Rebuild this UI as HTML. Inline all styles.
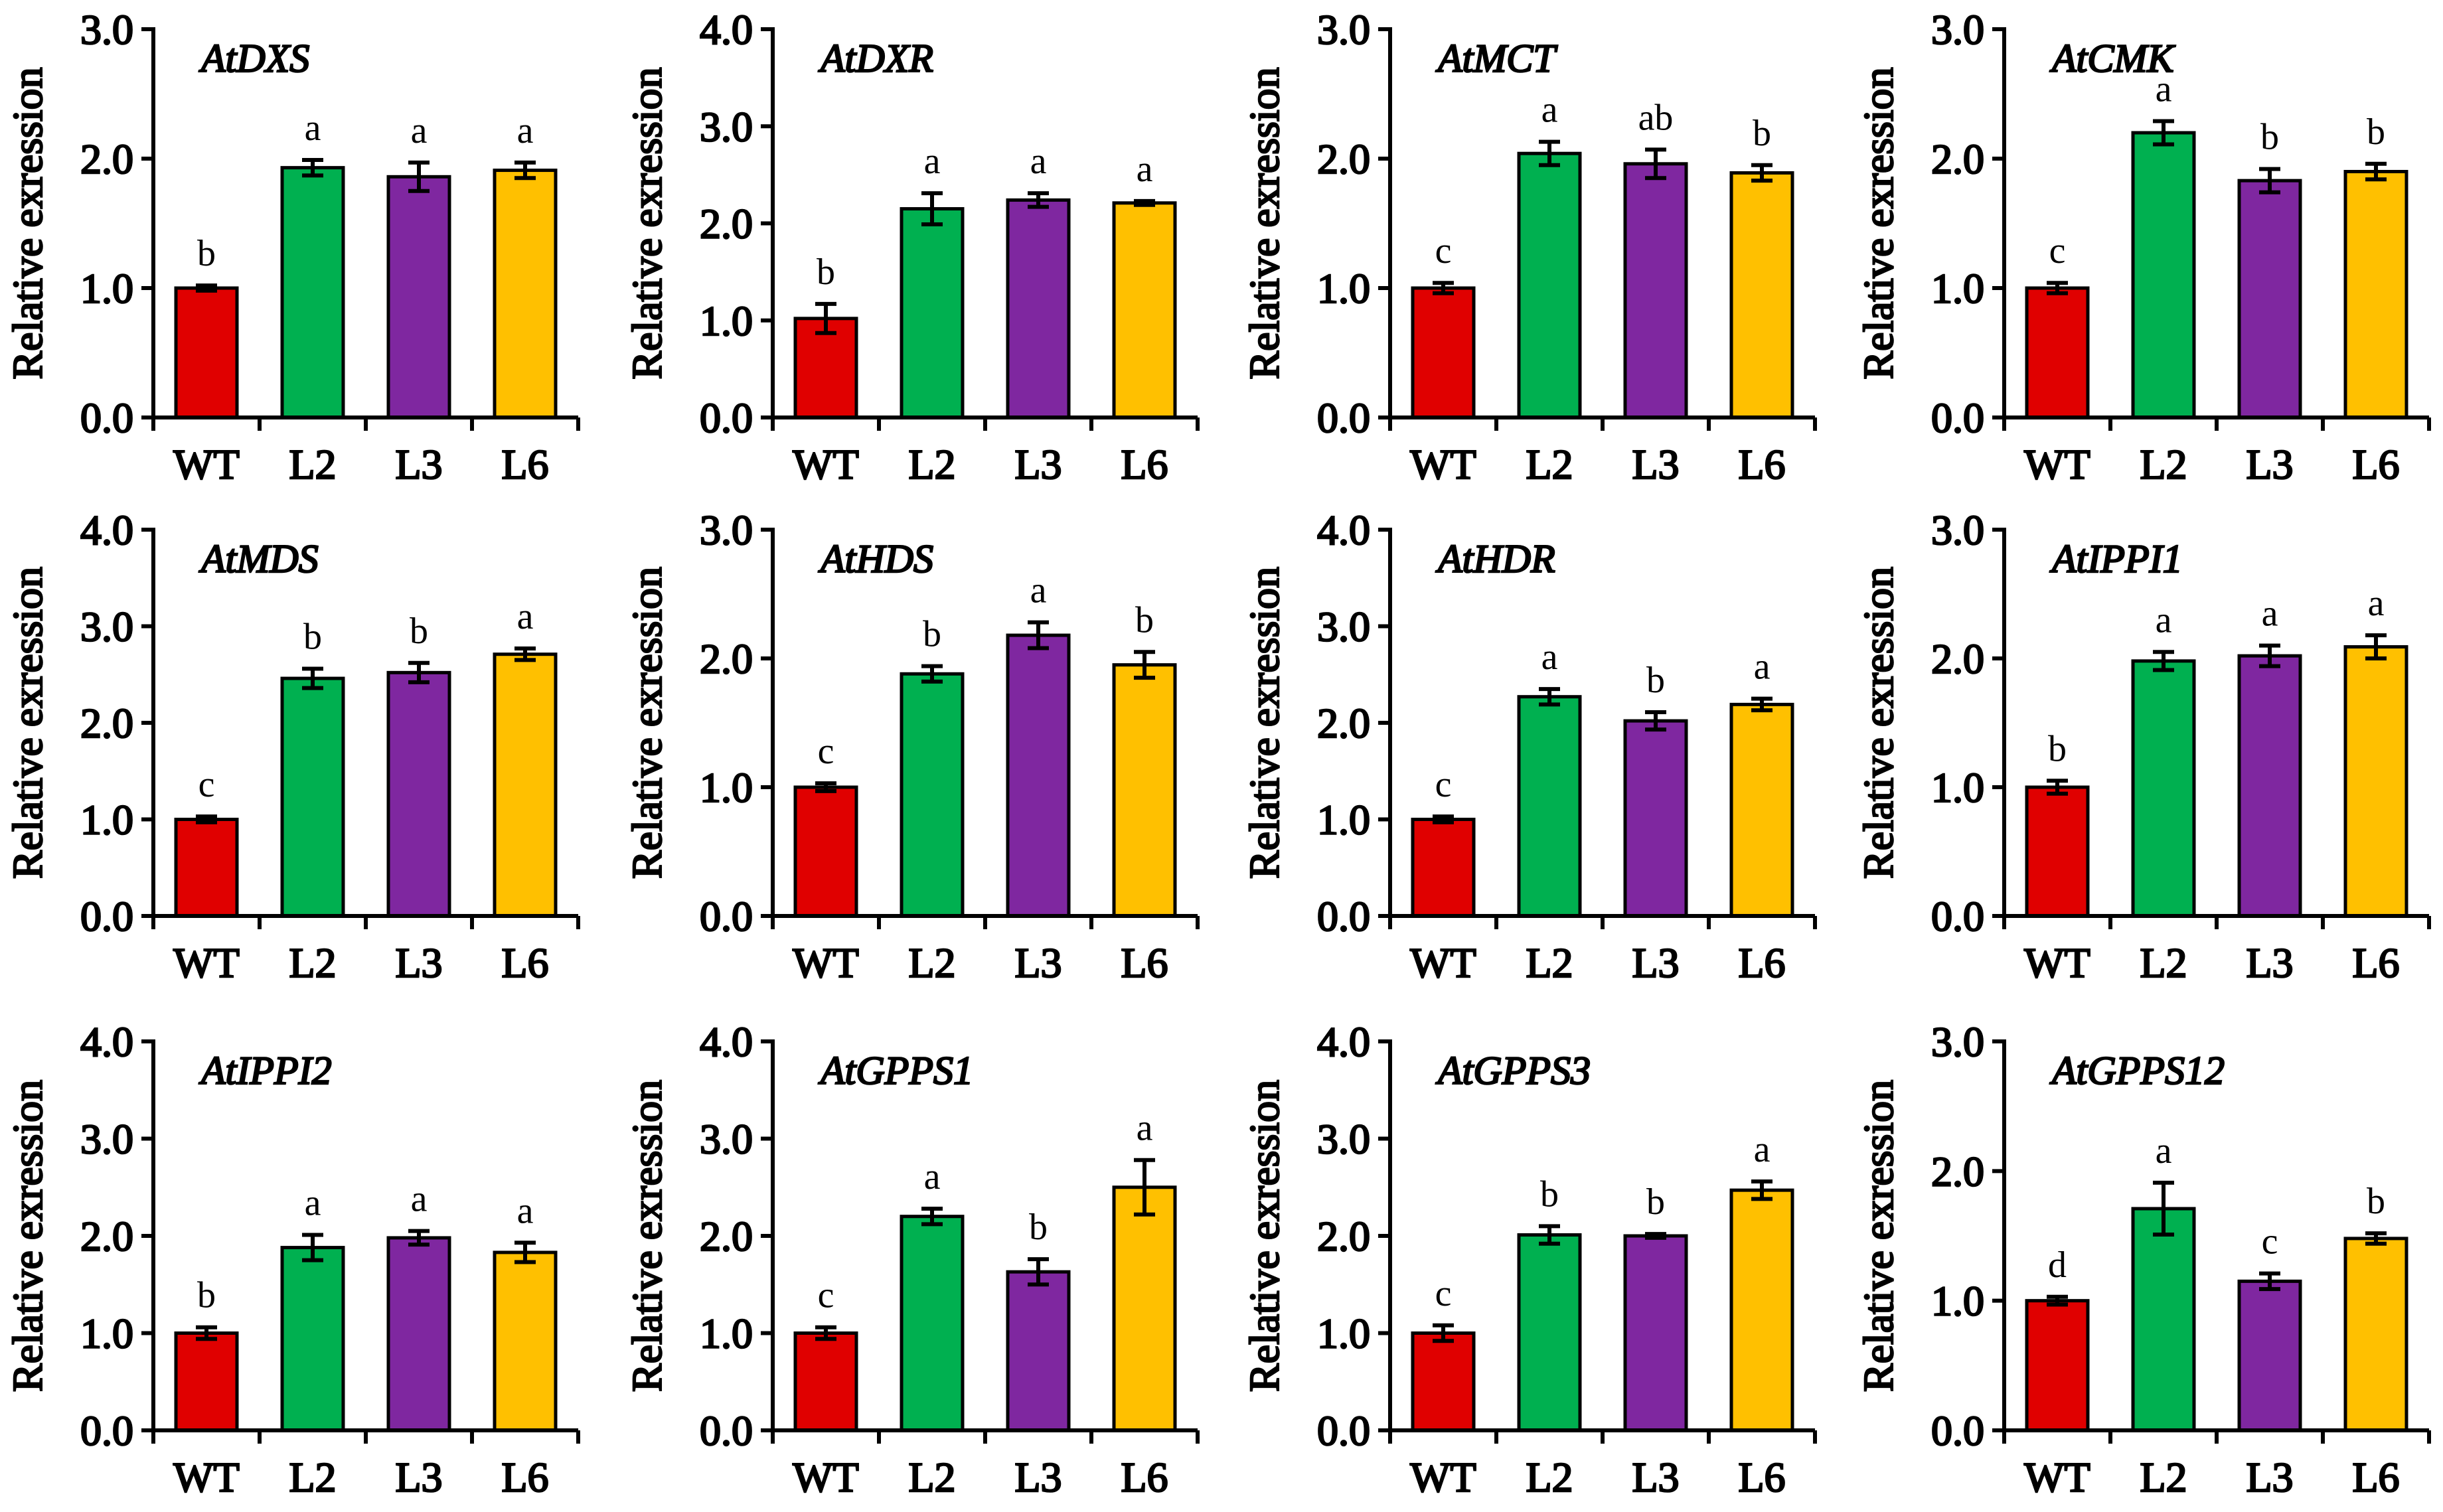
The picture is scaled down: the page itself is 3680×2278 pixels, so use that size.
<!DOCTYPE html>
<html><head><meta charset="utf-8">
<style>html,body{margin:0;padding:0;background:#fff}svg{display:block}text{font-family:"Liberation Serif","Times New Roman",serif}
.fb{font-weight:normal;stroke:#000;stroke-width:2.6px;paint-order:stroke}</style></head>
<body>
<svg id="chart" xmlns="http://www.w3.org/2000/svg" width="3680" height="2278" viewBox="0 0 3680 2278"></svg>
<script>
const genes = ["AtDXS","AtDXR","AtMCT","AtCMK","AtMDS","AtHDS","AtHDR","AtIPPI1","AtIPPI2","AtGPPS1","AtGPPS3","AtGPPS12"];
const categories = ["WT","L2","L3","L6"];
const yMaxes = [3,4,3,3,4,3,4,3,4,4,4,3];
const means = [
 [1.0,1.93,1.86,1.91],[1.02,2.15,2.24,2.21],[1.0,2.04,1.96,1.89],[1.0,2.2,1.83,1.9],
 [1.0,2.46,2.52,2.71],[1.0,1.88,2.18,1.95],[1.0,2.27,2.02,2.19],[1.0,1.98,2.02,2.09],
 [1.0,1.88,1.98,1.83],[1.0,2.2,1.63,2.5],[1.0,2.01,2.0,2.47],[1.0,1.71,1.15,1.48]];
const errors = [
 [0.02,0.06,0.11,0.06],[0.15,0.16,0.07,0.02],[0.04,0.09,0.11,0.06],[0.04,0.09,0.09,0.06],
 [0.03,0.10,0.10,0.06],[0.03,0.06,0.10,0.10],[0.03,0.08,0.09,0.06],[0.05,0.07,0.08,0.09],
 [0.06,0.13,0.07,0.10],[0.06,0.08,0.13,0.28],[0.08,0.09,0.02,0.09],[0.03,0.20,0.06,0.04]];
const sigLetters = [
 ["b","a","a","a"],["b","a","a","a"],["c","a","ab","b"],["c","a","b","b"],
 ["c","b","b","a"],["c","b","a","b"],["c","a","b","a"],["b","a","a","a"],
 ["b","a","a","a"],["c","a","b","a"],["c","b","b","a"],["d","a","c","b"]];
const colors = ["#e00000","#00b050","#7f27a0","#ffc000"];

const NS="http://www.w3.org/2000/svg";
const svg=document.getElementById('chart');
const colX=[231,1164,2094,3019], rowTop=[44,798,1569], rowBase=[629,1380,2155];
const axisW=640, catW=axisW/4, barW=92;
function mk(tag,attrs,parent){const e=document.createElementNS(NS,tag);for(const k in attrs)e.setAttribute(k,attrs[k]);(parent||svg).appendChild(e);return e;}

genes.forEach((g,i)=>{
  const ax=colX[i%4], top=rowTop[Math.floor(i/4)], base=rowBase[Math.floor(i/4)];
  const ymax=yMaxes[i];
  const y=v=>base-(v/ymax)*(base-top);
  const x=c=>ax+catW*c+catW/2;
  const grp=mk('g',{});
  
  
  const t=mk('text',{x:ax+72,y:top+64,'font-size':60,'font-style':'italic','class':'fb'},grp);
  t.textContent=g;
  
  
  const yt=mk('text',{x:0,y:0,transform:`translate(${ax-168},${(top+base)/2}) rotate(-90)`,'text-anchor':'middle','font-size':64,'class':'fb',textLength:470,lengthAdjust:'spacingAndGlyphs'},grp);
  yt.textContent='Relative exression';
  
  
  for(let v=0;v<=ymax;v++){
    const tk=mk('line',{x1:ax-18,x2:ax,y1:y(v),y2:y(v),stroke:'#000','stroke-width':6},grp);
    
    
    const tl=mk('text',{x:ax-30,y:y(v)+22,'text-anchor':'end','font-size':64,'class':'fb'},grp);
    tl.textContent=v.toFixed(1);
    
    
  }
  categories.forEach((c,j)=>{
    const m=means[i][j], e=errors[i][j];
    const b=mk('rect',{x:x(j)-barW/2,y:y(m),width:barW,height:base-y(m),fill:colors[j],stroke:'#000','stroke-width':5},grp);
    
    
    const eg=mk('path',{d:`M${x(j)},${y(m+e)}V${y(m-e)}M${x(j)-16},${y(m+e)}H${x(j)+16}M${x(j)-16},${y(m-e)}H${x(j)+16}`,stroke:'#000','stroke-width':6,fill:'none'},grp);
    
    
    const lt=mk('text',{x:x(j),y:y(m+e)-30,'text-anchor':'middle','font-size':56},grp);
    lt.textContent=sigLetters[i][j];
    
    
    const xl=mk('text',{x:x(j),y:base+92,'text-anchor':'middle','font-size':64,'class':'fb'},grp);
    xl.textContent=c;
    
    
  });
  const ya=mk('line',{x1:ax,x2:ax,y1:top-3,y2:base+20,stroke:'#000','stroke-width':6},grp);
  
  
  const xa=mk('line',{x1:ax-18,x2:ax+axisW,y1:base,y2:base,stroke:'#000','stroke-width':6},grp);
  
  
  for(let k=1;k<=4;k++){
    const xt=mk('line',{x1:ax+catW*k,x2:ax+catW*k,y1:base,y2:base+20,stroke:'#000','stroke-width':6},grp);
    
    
  }
});
</script>
</body></html>
